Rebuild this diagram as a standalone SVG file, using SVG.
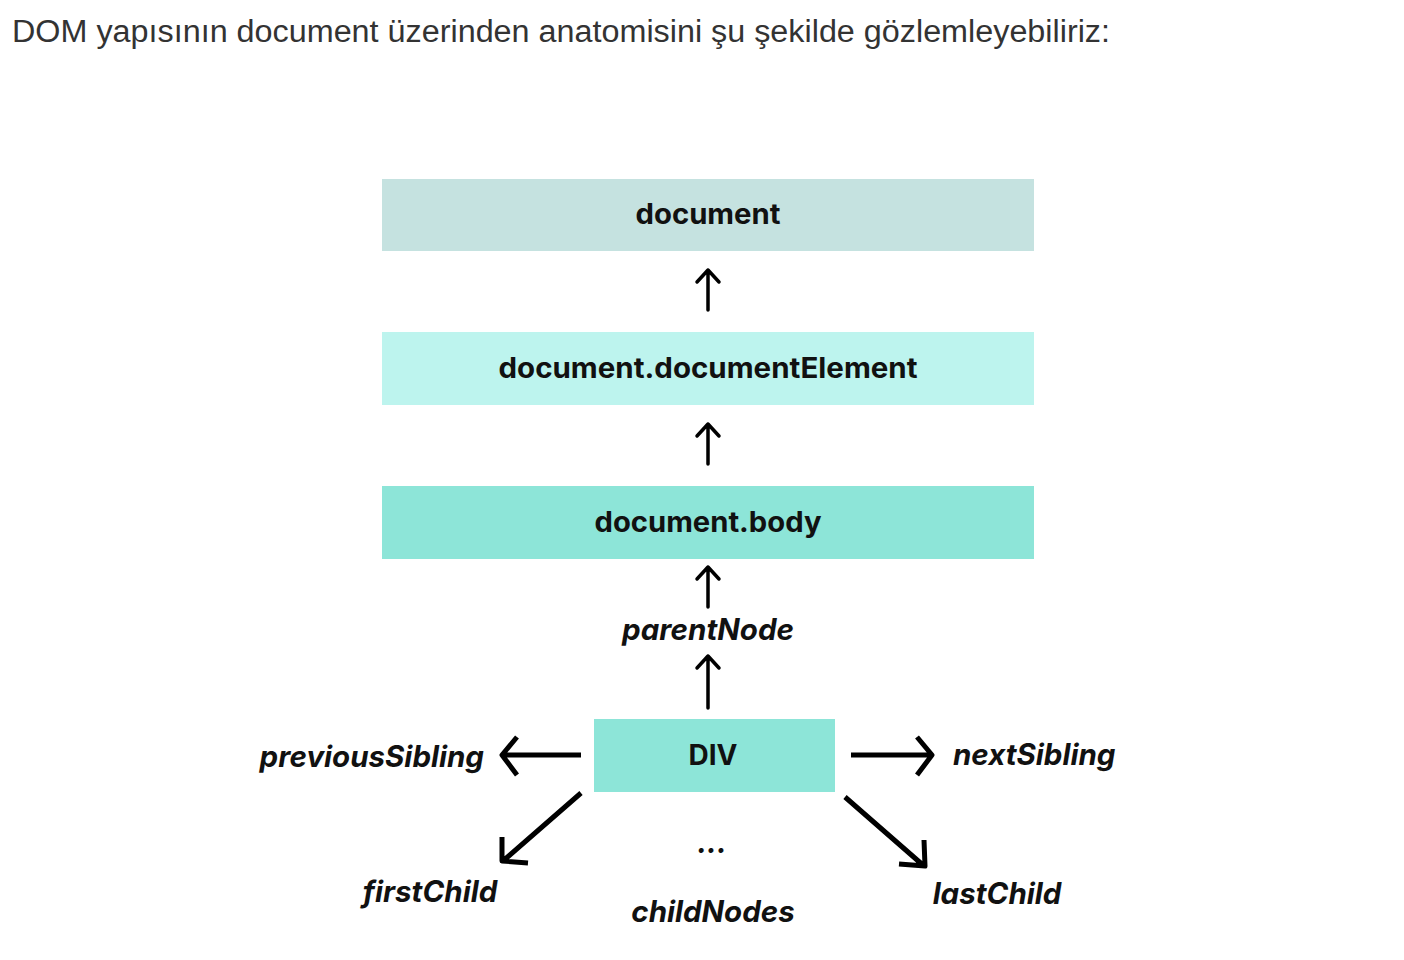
<svg xmlns="http://www.w3.org/2000/svg" width="1404" height="960" viewBox="0 0 1404 960">
<style>
.hdr{font-family:"Liberation Sans",Arial,sans-serif;font-size:31px;fill:#333333}
.lbl{font-family:Inter,"Liberation Sans",sans-serif;font-size:28px;font-weight:700;fill:#111111;text-anchor:middle}
.it{font-family:Inter,"Liberation Sans",sans-serif;font-size:29.5px;font-weight:700;font-style:italic;fill:#111111}
.up{fill:none;stroke:#000;stroke-width:3.5;stroke-linecap:round;stroke-linejoin:round}
.thick{fill:none;stroke:#000;stroke-width:5;stroke-linecap:butt;stroke-linejoin:round}
</style>
<rect width="1404" height="960" fill="#ffffff"/>
<text class="hdr" x="12" y="42" textLength="1098" lengthAdjust="spacingAndGlyphs">DOM yapısının document üzerinden anatomisini şu şekilde gözlemleyebiliriz:</text>
<g id="node-document"><rect x="382" y="179" width="652" height="72" fill="#c5e2e0"/><text class="lbl" x="708" y="224" textLength="145" lengthAdjust="spacingAndGlyphs">document</text></g>
<g id="node-documentElement"><rect x="382" y="332" width="652" height="73" fill="#bdf4ee"/><text class="lbl" x="708" y="378" textLength="419" lengthAdjust="spacingAndGlyphs">document.documentElement</text></g>
<g id="node-body"><rect x="382" y="486" width="652" height="73" fill="#8de5d8"/><text class="lbl" x="708" y="532" textLength="227" lengthAdjust="spacingAndGlyphs">document.body</text></g>
<g id="node-div"><rect x="594" y="719" width="241" height="73" fill="#8de5d8"/><text class="lbl" x="713" y="765">DIV</text></g>
<g id="labels">
<text class="it" x="708" y="640" text-anchor="middle">parentNode</text>
<text class="it" x="484" y="767" text-anchor="end">previousSibling</text>
<text class="it" x="953" y="765">nextSibling</text>
<text class="it" x="430" y="902" text-anchor="middle">firstChild</text>
<text class="it" x="713" y="922" text-anchor="middle">childNodes</text>
<text class="it" x="997" y="904" text-anchor="middle">lastChild</text>
<text class="it" x="712" y="853" text-anchor="middle">...</text>
</g>
<g id="connectors">
<path class="up" d="M708 310V270M697 282L708 270L719 282"/>
<path class="up" d="M708 464V424M697 436L708 424L719 436"/>
<path class="up" d="M708 607V567M697 579L708 567L719 579"/>
<path class="up" d="M708 708V656M697 668L708 656L719 668"/>
<path class="thick" d="M581 755H502M517 737L502 755L517 775"/>
<path class="thick" d="M851 755H932M917 737L932 755L917 775"/>
<path class="thick" d="M581 793L503 861M502 837L502 861L528 863"/>
<path class="thick" d="M845 797L924 866M924 840L925 866L899 864"/>
</g>
</svg>
